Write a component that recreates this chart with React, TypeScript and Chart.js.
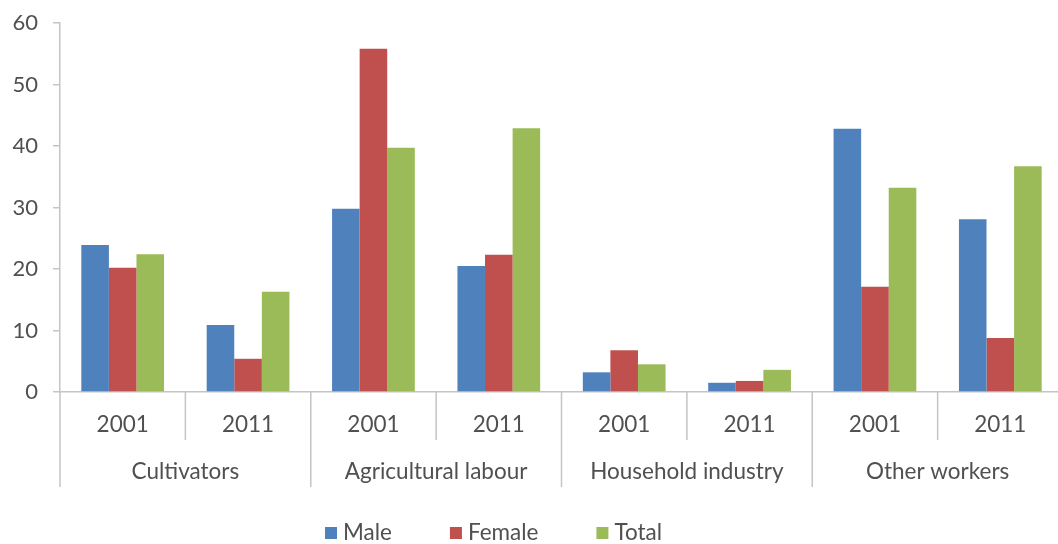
import React, { useEffect, useRef } from "react";
import { Chart, registerables } from "chart.js";

Chart.register(...registerables);

const categories = ["Cultivators", "Agricultural labour", "Household industry", "Other workers"];
const years = ["2001", "2011"];
const seriesNames = ["Male", "Female", "Total"];
const seriesColors = ["#4F81BD", "#C0504D", "#9BBB59"];
const male = [23.9, 10.9, 29.8, 20.5, 3.2, 1.5, 42.8, 28.1];
const female = [20.2, 5.4, 55.8, 22.3, 6.8, 1.8, 17.1, 8.8];
const total = [22.4, 16.3, 39.7, 42.9, 4.5, 3.6, 33.2, 36.7];
const yTicks = [0, 10, 20, 30, 40, 50, 60];

const FONT = "Lato, 'Open Sans', sans-serif";
const TEXT = "#505050";
const LINE = "#C4C4C4";

export default function App() {
  const ref = useRef<HTMLCanvasElement | null>(null);
  useEffect(() => {
    if (!ref.current) return;
    const labels: string[] = [];
    categories.forEach(() => years.forEach((y) => labels.push(y)));
    const values = [male, female, total];

    const groupPlugin = {
      id: "groups",
      afterDraw(chart: any) {
        const ctx = chart.ctx;
        const xs = chart.scales.x;
        const axisY = chart.chartArea.bottom;
        const n = labels.length;
        const slot = (chart.chartArea.right - chart.chartArea.left) / n;
        ctx.save();
        ctx.strokeStyle = LINE;
        ctx.lineWidth = 1.5;
        for (let i = 0; i <= n; i++) {
          const cx = i < n ? xs.getPixelForValue(i) - slot / 2 : xs.getPixelForValue(n - 1) + slot / 2;
          const long = i % years.length === 0;
          ctx.beginPath();
          ctx.moveTo(cx, axisY);
          ctx.lineTo(cx, axisY + (long ? 95 : 48));
          ctx.stroke();
        }
        ctx.fillStyle = TEXT;
        ctx.textAlign = "center";
        ctx.textBaseline = "middle";
        ctx.font = `22.5px ${FONT}`;
        for (let i = 0; i < n; i++) {
          ctx.fillText(labels[i], xs.getPixelForValue(i), axisY + 33);
        }
        categories.forEach((c, k) => {
          const a = xs.getPixelForValue(k * years.length);
          const b = xs.getPixelForValue(k * years.length + years.length - 1);
          ctx.fillText(c, (a + b) / 2, axisY + 80);
        });
        // legend
        let lx = 325;
        const ly = 533;
        ctx.textAlign = "left";
        ctx.font = `22.5px ${FONT}`;
        seriesNames.forEach((s, k) => {
          ctx.fillStyle = seriesColors[k];
          ctx.fillRect(lx, ly - 6, 12, 12);
          ctx.fillStyle = TEXT;
          ctx.fillText(s, lx + 18, ly);
          lx += 18 + ctx.measureText(s).width + 58;
        });
        ctx.restore();
      },
    };

    const chart = new Chart(ref.current, {
      type: "bar",
      data: {
        labels,
        datasets: seriesNames.map((name, k) => ({
          label: name,
          data: values[k],
          backgroundColor: seriesColors[k],
          borderWidth: 0,
          barPercentage: 1,
          categoryPercentage: 0.66,
        })),
      },
      options: {
        animation: false,
        responsive: false,
        maintainAspectRatio: false,
        layout: { padding: { top: 23, right: 0, bottom: 0, left: 0 } },
        plugins: { legend: { display: false }, tooltip: { enabled: false } },
        scales: {
          x: {
            type: "category",
            offset: true,
            grid: { display: false },
            border: { display: true, color: LINE, width: 1.5 },
            ticks: { display: false },
            afterFit: (s: any) => {
              s.height = 152;
              s.paddingLeft = 0;
              s.paddingRight = 0;
            },
          },
          y: {
            min: 0,
            max: 60,
            afterBuildTicks: (s: any) => {
              s.ticks = yTicks.map((v) => ({ value: v }));
            },
            grid: { drawOnChartArea: false, drawTicks: true, tickLength: 7, color: LINE, lineWidth: 1.5 },
            border: { display: true, color: LINE, width: 1.5 },
            ticks: { color: TEXT, font: { family: FONT, size: 22 }, padding: 15 },
            afterFit: (s: any) => {
              s.width = 60;
              s.paddingTop = 0;
              s.paddingBottom = 0;
            },
          },
        },
      },
      plugins: [groupPlugin],
    } as any);
    return () => chart.destroy();
  }, []);

  return (
    <div style={{ position: "fixed", left: 0, top: 0, width: 1058, height: 544, overflow: "hidden", background: "#fff" }}>
      <canvas ref={ref} width={1063} height={544} style={{ width: 1063, height: 544, display: "block" }} />
    </div>
  );
}
